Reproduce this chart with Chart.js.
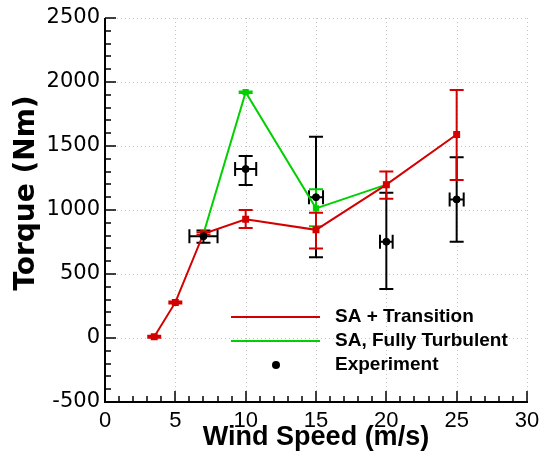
<!DOCTYPE html>
<html>
<head>
<meta charset="utf-8">
<script src="https://cdn.jsdelivr.net/npm/chart.js@4.4.0/dist/chart.umd.min.js"></script>
<style>
  html, body { margin: 0; padding: 0; background: #fff; }
  #wrap { width: 541px; height: 452px; }
</style>
</head>
<body>
<div id="wrap"><canvas id="chart" width="541" height="452"></canvas></div>
<script>
// --- datos ---
const transSpeed = [3.5, 5, 7, 10, 15, 20, 25];
const transTorque = [10, 278, 815, 928, 845, 1198, 1590];
const transErrUp = [8, 8, 10, 72, 134, 102, 347];
const transErrDown = [8, 8, 10, 68, 145, 110, 356];

const turbSpeed = [7, 10, 15, 20];
const turbTorque = [815, 1920, 1013, 1198];
const turbErrUp = [0, 5, 150, 0];
const turbErrDown = [0, 5, 140, 0];

const expSpeed = [7, 10, 15, 20, 25];
const expTorque = [795, 1320, 1100, 752, 1083];
const expErrUp = [45, 102, 473, 383, 329];
const expErrDown = [50, 125, 470, 369, 331];
const expSpeedErr = [1.0, 0.75, 0.5, 0.45, 0.5];

const legendLabels = ['SA + Transition', 'SA, Fully Turbulent', 'Experiment'];
const yTitle = 'Torque (Nm)';

const RED = '#d40000';
const GREEN = '#00d000';
const BLACK = '#000000';

function toPoints(xs, ys) {
    return xs.map((x, i) => ({ x: x, y: ys[i] }));
}

// rejilla punteada, detras de todo
const dottedGrid = {
    id: 'dottedGrid',
    beforeDatasetsDraw(chart) {
        const ctx = chart.ctx;
        const xs = chart.scales.x, ys = chart.scales.y;
        const a = chart.chartArea;
        ctx.save();
        ctx.strokeStyle = '#c4c4c4';
        ctx.lineWidth = 1;
        ctx.setLineDash([1, 3]);
        ctx.beginPath();
        ys.ticks.forEach(t => {
            const py = Math.round(ys.getPixelForValue(t.value)) + 0.5;
            ctx.moveTo(a.left, py); ctx.lineTo(a.right, py);
        });
        xs.ticks.forEach(t => {
            const px = Math.round(xs.getPixelForValue(t.value)) + 0.5;
            ctx.moveTo(px, a.top); ctx.lineTo(px, a.bottom);
        });
        ctx.stroke();
        ctx.restore();
    }
};

// barras de error, dibujadas con las escalas del chart
const errorBars = {
    id: 'errorBars',
    beforeDatasetsDraw(chart) {
        const ctx = chart.ctx;
        const xs = chart.scales.x, ys = chart.scales.y;
        const cap = 7;
        const sets = [
            { color: BLACK, x: expSpeed, y: expTorque, up: expErrUp, down: expErrDown, xe: expSpeedErr },
            { color: GREEN, x: turbSpeed, y: turbTorque, up: turbErrUp, down: turbErrDown, xe: null },
            { color: RED, x: transSpeed, y: transTorque, up: transErrUp, down: transErrDown, xe: null }
        ];
        ctx.save();
        ctx.lineWidth = 2;
        sets.forEach(s => {
            ctx.strokeStyle = s.color;
            s.x.forEach((xv, i) => {
                const px = xs.getPixelForValue(xv);
                const py = ys.getPixelForValue(s.y[i]);
                if (s.up[i] || s.down[i]) {
                    const top = ys.getPixelForValue(s.y[i] + s.up[i]);
                    const bot = ys.getPixelForValue(s.y[i] - s.down[i]);
                    ctx.beginPath();
                    ctx.moveTo(px, top); ctx.lineTo(px, bot);
                    ctx.moveTo(px - cap, top); ctx.lineTo(px + cap, top);
                    ctx.moveTo(px - cap, bot); ctx.lineTo(px + cap, bot);
                    ctx.stroke();
                }
                if (s.xe && s.xe[i]) {
                    const l = xs.getPixelForValue(xv - s.xe[i]);
                    const r = xs.getPixelForValue(xv + s.xe[i]);
                    ctx.beginPath();
                    ctx.moveTo(l, py); ctx.lineTo(r, py);
                    ctx.moveTo(l, py - cap); ctx.lineTo(l, py + cap);
                    ctx.moveTo(r, py - cap); ctx.lineTo(r, py + cap);
                    ctx.stroke();
                }
            });
        });
        ctx.restore();
    }
};

// ejes, marcas menores hacia adentro, titulo Y y leyenda
const axesAndLegend = {
    id: 'axesAndLegend',
    afterDraw(chart) {
        const ctx = chart.ctx;
        const xs = chart.scales.x, ys = chart.scales.y;
        const a = chart.chartArea;
        ctx.save();
        ctx.strokeStyle = BLACK;
        ctx.lineWidth = 2;
        ctx.beginPath();
        ctx.moveTo(a.left, a.top); ctx.lineTo(a.left, a.bottom + 1);
        ctx.moveTo(a.left - 1, a.bottom); ctx.lineTo(a.right + 1, a.bottom);
        ctx.stroke();

        ctx.lineWidth = 1.5;
        ctx.beginPath();
        for (let v = -500; v <= 2500; v += 100) {
            const py = Math.round(ys.getPixelForValue(v));
            const len = v % 500 === 0 ? 11 : 6;
            ctx.moveTo(a.left, py); ctx.lineTo(a.left + len, py);
        }
        for (let v = 0; v <= 30; v += 1) {
            const px = Math.round(xs.getPixelForValue(v));
            const len = v % 5 === 0 ? 11 : 6;
            ctx.moveTo(px, a.bottom); ctx.lineTo(px, a.bottom - len);
        }
        ctx.stroke();

        // titulo del eje Y (un poco por encima del centro, como el original)
        ctx.save();
        ctx.translate(27, 193);
        ctx.rotate(-Math.PI / 2);
        ctx.fillStyle = BLACK;
        ctx.font = 'bold 28px "DejaVu Sans", sans-serif';
        ctx.textAlign = 'center';
        ctx.textBaseline = 'middle';
        ctx.fillText(yTitle, 0, 0);
        ctx.restore();

        // leyenda
        const rows = [317, 341, 365];
        const colors = [RED, GREEN];
        ctx.lineWidth = 2;
        colors.forEach((c, i) => {
            ctx.strokeStyle = c;
            ctx.beginPath();
            ctx.moveTo(231, rows[i]); ctx.lineTo(320, rows[i]);
            ctx.stroke();
        });
        ctx.fillStyle = BLACK;
        ctx.beginPath();
        ctx.arc(276, rows[2], 4, 0, Math.PI * 2);
        ctx.fill();
        ctx.font = 'bold 19px "Liberation Sans", Arial, sans-serif';
        ctx.textBaseline = 'middle';
        ctx.textAlign = 'left';
        legendLabels.forEach((t, i) => ctx.fillText(t, 335, rows[i]));
        ctx.restore();
    }
};

const ctx = document.getElementById('chart').getContext('2d');
new Chart(ctx, {
    type: 'scatter',
    data: {
        datasets: [{
            label: legendLabels[1],
            data: toPoints(turbSpeed, turbTorque),
            showLine: true,
            borderColor: GREEN,
            backgroundColor: GREEN,
            borderWidth: 2,
            pointStyle: 'rect',
            pointRadius: 3,
            order: 2
        }, {
            label: legendLabels[0],
            data: toPoints(transSpeed, transTorque),
            showLine: true,
            borderColor: RED,
            backgroundColor: RED,
            borderWidth: 2,
            pointStyle: 'rect',
            pointRadius: 3.5,
            order: 1
        }, {
            label: legendLabels[2],
            data: toPoints(expSpeed, expTorque),
            showLine: false,
            borderColor: BLACK,
            backgroundColor: BLACK,
            pointStyle: 'circle',
            pointRadius: 3.5,
            order: 0
        }]
    },
    options: {
        responsive: false,
        animation: false,
        layout: { padding: { top: 18, right: 14, left: 0, bottom: 0 } },
        plugins: {
            legend: { display: false },
            tooltip: { enabled: false }
        },
        scales: {
            x: {
                type: 'linear',
                min: 0,
                max: 30,
                ticks: {
                    stepSize: 5,
                    padding: 6,
                    color: BLACK,
                    font: { family: '"Liberation Sans", Arial, sans-serif', size: 22 },
                    callback: v => String(v)
                },
                grid: { display: false, drawTicks: false },
                border: { display: false },
                title: {
                    display: true,
                    text: 'Wind Speed (m/s)',
                    color: BLACK,
                    font: { family: '"Liberation Sans", Arial, sans-serif', size: 27, weight: 'bold' },
                    padding: { top: 0, bottom: -2 }
                },
                afterFit: s => {
                    s.height = 50;
                    s.paddingLeft = 0;
                    s.paddingRight = 0;
                }
            },
            y: {
                type: 'linear',
                min: -500,
                max: 2500,
                ticks: {
                    stepSize: 500,
                    padding: 5,
                    color: BLACK,
                    font: { family: '"DejaVu Sans", sans-serif', size: 21 },
                    callback: v => String(v)
                },
                grid: { display: false, drawTicks: false },
                border: { display: false },
                title: { display: false },
                afterFit: s => { s.width = 105; }
            }
        }
    },
    plugins: [dottedGrid, errorBars, axesAndLegend]
});
</script>
</body>
</html>
